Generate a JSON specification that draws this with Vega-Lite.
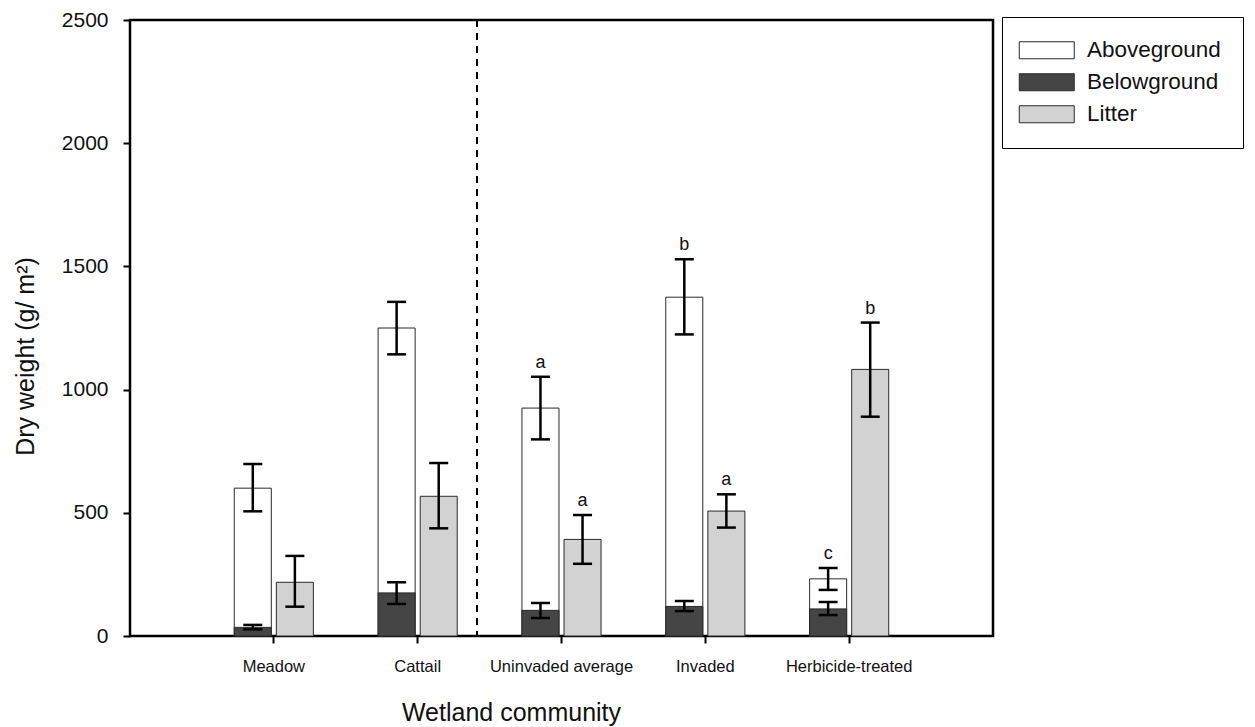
{
  "$schema": "https://vega.github.io/schema/vega-lite/v6.json",
  "width": 863,
  "height": 616,
  "autosize": {"type": "none"},
  "padding": {"left": 130, "top": 20, "right": 262, "bottom": 91},
  "background": "white",
  "config": {
    "font": "Liberation Sans",
    "view": {"stroke": "black", "strokeWidth": 2.5},
    "axis": {
      "labelFont": "Liberation Sans",
      "titleFont": "Liberation Sans",
      "labelColor": "#111",
      "titleColor": "#111",
      "titleFontWeight": "normal",
      "grid": false,
      "domain": false,
      "tickColor": "black",
      "tickWidth": 2,
      "tickSize": 7
    }
  },
  "data": {
    "values": [
      {"community": "Meadow", "component": "Aboveground", "group": "Biomass", "value": 600, "lower": 506, "upper": 698, "letter": ""},
      {"community": "Meadow", "component": "Belowground", "group": "Biomass", "value": 35, "lower": 27, "upper": 45, "letter": ""},
      {"community": "Meadow", "component": "Litter", "group": "Litter", "value": 218, "lower": 119, "upper": 325, "letter": ""},
      {"community": "Cattail", "component": "Aboveground", "group": "Biomass", "value": 1250, "lower": 1143, "upper": 1356, "letter": ""},
      {"community": "Cattail", "component": "Belowground", "group": "Biomass", "value": 175, "lower": 130, "upper": 218, "letter": ""},
      {"community": "Cattail", "component": "Litter", "group": "Litter", "value": 567, "lower": 437, "upper": 702, "letter": ""},
      {"community": "Uninvaded average", "component": "Aboveground", "group": "Biomass", "value": 925, "lower": 798, "upper": 1052, "letter": "a"},
      {"community": "Uninvaded average", "component": "Belowground", "group": "Biomass", "value": 104, "lower": 73, "upper": 134, "letter": ""},
      {"community": "Uninvaded average", "component": "Litter", "group": "Litter", "value": 392, "lower": 293, "upper": 491, "letter": "a"},
      {"community": "Invaded", "component": "Aboveground", "group": "Biomass", "value": 1375, "lower": 1224, "upper": 1529, "letter": "b"},
      {"community": "Invaded", "component": "Belowground", "group": "Biomass", "value": 120, "lower": 101, "upper": 142, "letter": ""},
      {"community": "Invaded", "component": "Litter", "group": "Litter", "value": 507, "lower": 440, "upper": 575, "letter": "a"},
      {"community": "Herbicide-treated", "component": "Aboveground", "group": "Biomass", "value": 232, "lower": 187, "upper": 276, "letter": "c"},
      {"community": "Herbicide-treated", "component": "Belowground", "group": "Biomass", "value": 110, "lower": 85, "upper": 138, "letter": ""},
      {"community": "Herbicide-treated", "component": "Litter", "group": "Litter", "value": 1082, "lower": 890, "upper": 1272, "letter": "b"}
    ]
  },
  "encoding": {
    "x": {
      "field": "community",
      "type": "nominal",
      "sort": ["Meadow", "Cattail", "Uninvaded average", "Invaded", "Herbicide-treated"],
      "scale": {"paddingInner": 0.45, "paddingOuter": 0.725},
      "axis": {
        "title": "Wetland community",
        "titleFontSize": 25,
        "titleX": 381,
        "titleY": 76,
        "titleBaseline": "middle",
        "labelAngle": 0,
        "labelFontSize": 16.5,
        "labelPadding": 15
      }
    },
    "xOffset": {
      "field": "group",
      "type": "nominal",
      "sort": ["Biomass", "Litter"],
      "scale": {"paddingInner": 0.12, "paddingOuter": 0}
    }
  },
  "layer": [
    {
      "mark": {"type": "bar", "stroke": "#2a2a2a", "strokeWidth": 1, "opacity": 1},
      "encoding": {
        "y": {
          "field": "value",
          "type": "quantitative",
          "stack": null,
          "scale": {"domain": [0, 2500], "nice": false},
          "axis": {
            "title": "Dry weight (g/ m²)",
            "titleFontSize": 25,
            "titleX": -105,
            "titleY": 336,
            "titleAlign": "center",
            "titleBaseline": "middle",
            "values": [0, 500, 1000, 1500, 2000, 2500],
            "format": "d",
            "labelFontSize": 21,
            "labelPadding": 15
          }
        },
        "fill": {
          "field": "component",
          "type": "nominal",
          "scale": {
            "domain": ["Aboveground", "Belowground", "Litter"],
            "range": ["#ffffff", "#454545", "#d2d2d2"]
          },
          "legend": {
            "title": null,
            "orient": "none",
            "legendX": 872,
            "legendY": -3,
            "direction": "vertical",
            "strokeColor": "black",
            "padding": 22,
            "rowPadding": 9,
            "symbolType": "M-2.75,-0.85H2.75V0.85H-2.75Z",
            "symbolSize": 400,
            "symbolStrokeColor": "#2a2a2a",
            "symbolStrokeWidth": 1,
            "symbolOffset": 11.5,
            "labelFontSize": 22.5,
            "labelFont": "Liberation Sans",
            "labelColor": "#111",
            "labelOffset": 29,
            "encode": {
              "legend": {"update": {"strokeWidth": {"value": 2}}}
            }
          }
        }
      }
    },
    {
      "mark": {"type": "rule", "color": "black", "strokeWidth": 2.5},
      "encoding": {
        "y": {"field": "lower", "type": "quantitative"},
        "y2": {"field": "upper"}
      }
    },
    {
      "mark": {"type": "tick", "color": "black", "thickness": 2.5, "size": 19, "opacity": 1},
      "encoding": {"y": {"field": "lower", "type": "quantitative"}}
    },
    {
      "mark": {"type": "tick", "color": "black", "thickness": 2.5, "size": 19, "opacity": 1},
      "encoding": {"y": {"field": "upper", "type": "quantitative"}}
    },
    {
      "transform": [{"filter": "datum.letter != ''"}],
      "mark": {"type": "text", "fontSize": 18, "color": "#111", "baseline": "alphabetic", "dy": -9},
      "encoding": {
        "y": {"field": "upper", "type": "quantitative"},
        "text": {"field": "letter"}
      }
    },
    {
      "data": {"values": [{"community": "Cattail"}]},
      "mark": {"type": "rule", "color": "black", "strokeWidth": 2, "strokeDash": [7, 6]},
      "encoding": {
        "x": {"field": "community", "type": "nominal", "bandPosition": 1.25},
        "xOffset": null
      }
    }
  ]
}
